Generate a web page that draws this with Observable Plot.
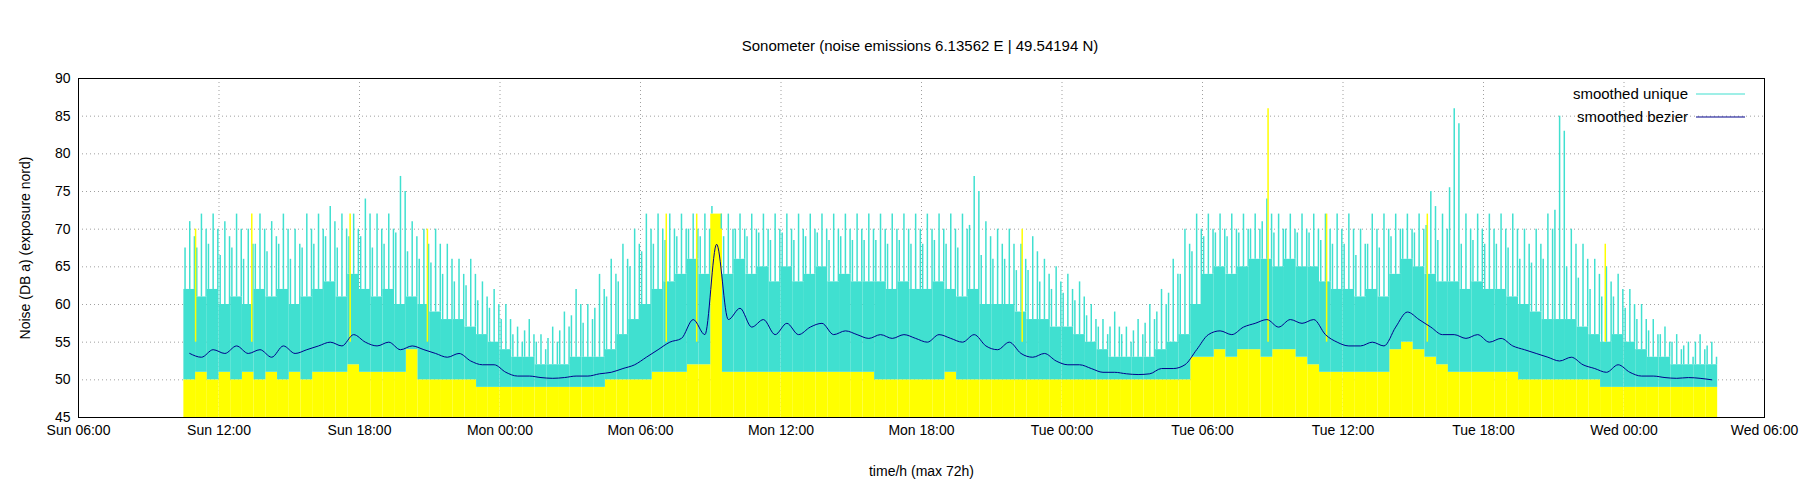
<!DOCTYPE html>
<html><head><meta charset="utf-8">
<script src="https://cdn.jsdelivr.net/npm/d3@7"></script>
<script src="https://cdn.jsdelivr.net/npm/@observablehq/plot@0.6"></script>
<style>body{margin:0;background:#fff;font-family:"Liberation Sans",Arial,sans-serif}
#t{height:60px;text-align:center;font-size:15px;line-height:92px;padding-left:40px}</style>
</head><body>
<div id="t">Sonometer (noise emissions 6.13562 E | 49.54194 N)</div>
<div id="c"></div>
<script>
const startHour = 10.75, step = 0.5; // hours from Sunday 00:00
const bezier = [53.5,53,54,53.5,54.5,53.5,54,53,54.5,53.5,54,54.5,
55,54.5,56,55,54.5,55,54,54.5,54,53.5,53,53.5,
52.5,52,52,51,50.5,50.5,50.3,50.2,50.3,50.5,50.5,50.8,
51,51.5,52,53,54,55,55.5,58,56,68,58,59.5,
57,58,56,57.5,56,57,57.5,56,56.5,56,55.5,56,
55.5,56,55.5,55,56,55.5,55,56,54.5,54,55,53.5,
53,53.5,52.5,52,52,51.5,51,51,50.8,50.7,50.8,51.5,
51.5,52,54,56,56.5,56,57,57.5,58,57,58,57.5,
58,56,55,54.5,54.5,55,54.5,57,59,58,57,56,
56,55.5,56,55,55.5,54.5,54,53.5,53,52.5,53,52,
51.5,51,52,51,50.5,50.5,50.3,50.2,50.3,50.2,50];
const band = [62,61,62,60,61,60,62,61,62,60,61,62,
63,61,64,62,61,62,60,61,60,59,58,58,
57,56,55,54,53,53,52,52,52,53,53,53,
54,56,58,60,62,63,64,66,64,72,64,66,
64,65,63,65,63,64,65,63,64,63,63,63,
62,63,62,62,63,62,61,62,60,60,60,59,
58,58,57,57,56,55,54,53,53,53,53,54,
55,56,60,64,65,64,65,66,66,65,66,65,
65,63,62,62,61,62,61,64,66,65,64,63,
63,62,63,62,62,61,60,59,58,58,58,57,
56,55,56,55,54,53,53,52,52,52,52];
const peak = [71,72,72,71,72,70,72,71,72,70,72,72,
73,72,72,74,72,72,77,71,70,70,68,66,
66,63,62,60,57,58,56,57,59,62,60,64,
66,68,70,72,72,72,72,72,72,72,72,72,
72,72,72,72,72,72,72,72,72,72,72,72,
72,72,72,72,72,72,72,77,71,70,70,68,
69,66,65,64,63,60,58,59,57,58,60,62,
66,70,72,72,72,72,72,72,74,72,72,72,
72,72,72,72,70,72,72,72,72,72,75,72,
86,72,72,72,72,72,70,70,72,85,70,68,
66,65,64,62,60,58,57,56,55,56,55];
const yellowBase = [50,51,50,51,50,51,50,51,50,51,50,51,
51,51,52,51,51,51,51,54,50,50,50,50,
50,49,49,49,49,49,49,49,49,49,49,49,
50,50,50,50,51,51,51,52,52,72,51,51,
51,51,51,51,51,51,51,51,51,51,51,50,
50,50,50,50,50,51,50,50,50,50,50,50,
50,50,50,50,50,50,50,50,50,50,50,50,
50,50,53,53,54,53,54,54,53,54,54,53,
52,51,51,51,51,51,51,54,55,54,53,52,
51,51,51,51,51,51,50,50,50,50,50,50,
50,49,49,49,49,49,49,49,49,49,49];
const yellowSpikeHour = [11.0, 13.4, 17.6, 20.9, 31.1, 32.4, 46.3, 56.8, 59.3, 63.6, 71.2];
const yellowSpikeValue = [70, 72, 72, 70, 72, 72, 70, 86, 72, 72, 68];
const tickHours = [6,12,18,24,30,36,42,48,54,60,66,72,78];
const tickLabels = ["Sun 06:00","Sun 12:00","Sun 18:00","Mon 00:00","Mon 06:00","Mon 12:00","Mon 18:00","Tue 00:00","Tue 06:00","Tue 12:00","Tue 18:00","Wed 00:00","Wed 06:00"];

const rows = bezier.map((b,i)=>({h:startHour+step*i,b,band:band[i],peak:peak[i],yb:yellowBase[i]}));
const spikes = yellowSpikeHour.map((h,i)=>({h,v:yellowSpikeValue[i]}));
const grid = {stroke:"#888",strokeOpacity:0.8,strokeDasharray:"1,3"};
const chart = Plot.plot({
  width:1800,height:440,marginTop:18,marginBottom:83,marginLeft:78,marginRight:36,
  style:{fontFamily:"Liberation Sans, Arial, sans-serif",fontSize:"14px",color:"#000"},
  x:{domain:[6,78],ticks:tickHours,tickFormat:d=>tickLabels[tickHours.indexOf(d)],label:"time/h (max 72h)",labelAnchor:"center",labelArrow:"none",labelOffset:58,tickPadding:8,tickSize:0},
  y:{domain:[45,90],ticks:d3.range(45,91,5),label:"Noise (DB a) (exposure nord)",labelAnchor:"center",labelArrow:"none",labelOffset:58,tickSize:0,tickPadding:8},
  marks:[
    Plot.gridX(tickHours,grid),
    Plot.gridY(d3.range(45,91,5),grid),
    Plot.rectY(rows,{x1:d=>d.h-0.25,x2:d=>d.h+0.25,y1:45,y2:"yb",fill:"yellow"}),
    Plot.rectY(rows,{x1:d=>d.h-0.25,x2:d=>d.h+0.25,y1:"yb",y2:"band",fill:"#40e0d0"}),
    Plot.ruleX(rows,{x:"h",y1:"band",y2:"peak",stroke:"#40e0d0",strokeWidth:1.5}),
    Plot.ruleX(rows,{x:d=>d.h-0.2,y1:"band",y2:d=>(d.band+d.peak)/2+1,stroke:"#40e0d0",strokeWidth:1.5}),
    Plot.ruleX(rows,{x:d=>d.h+0.2,y1:"band",y2:d=>d.peak-2,stroke:"#40e0d0",strokeWidth:1.5}),
    Plot.ruleX(spikes,{x:"h",y1:55,y2:"v",stroke:"yellow",strokeWidth:1.5}),
    Plot.line(rows,{x:"h",y:"b",stroke:"#00008b",strokeWidth:1,curve:"monotone-x"}),
    Plot.frame({stroke:"#000"})
  ]
});
const svg = d3.select(chart);
const leg = [["smoothed unique","#40e0d0",34],["smoothed bezier","#00008b",57]];
leg.forEach(([t,c,y])=>{
  svg.append("text").attr("x",1688).attr("y",y).attr("text-anchor","end").attr("dy","0.35em").style("font-size","15px").text(t);
  svg.append("line").attr("x1",1696).attr("x2",1745).attr("y1",y).attr("y2",y).attr("stroke",c).attr("stroke-width",1.2);
});
document.getElementById("c").append(chart);
</script></body></html>
